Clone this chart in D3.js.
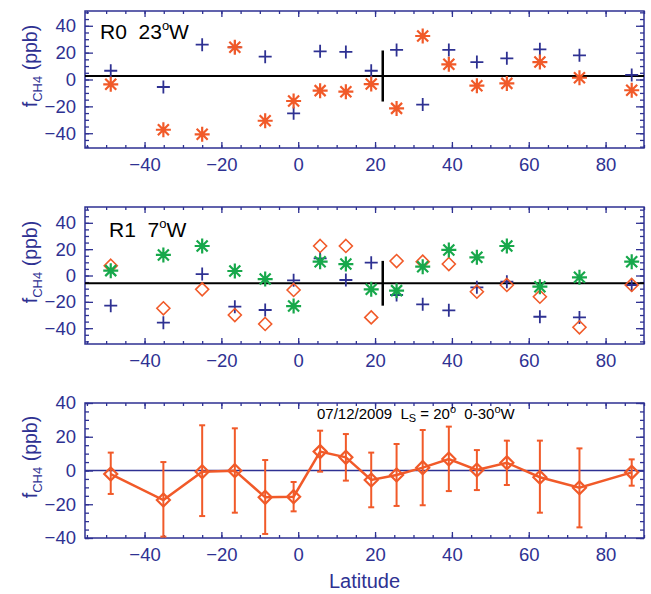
<!DOCTYPE html>
<html>
<head>
<meta charset="utf-8">
<script src="https://cdn.jsdelivr.net/npm/d3@7"></script>
<style>
  body { margin: 0; background: #fff; }
  svg text { font-family: "Liberation Sans", Arial, sans-serif; white-space: pre; }
</style>
</head>
<body>
<div id="chart"></div>
<script>
// latitude bins shared by every panel
const lat = [-48.8, -35.1, -25.0, -16.5, -8.6, -1.2, 5.7, 12.4, 19.0, 25.6, 32.4, 39.2, 46.5, 54.3, 62.9, 73.2, 86.8]

// R0 23W
const r0Plus = [6.5, -5.6, 25.9, 24, 17, -25.2, 21, 20.5, 6.5, 22, -18.7, 22, 13, 15.8, 22.5, 18, 3.4]
const r0Star = [-3.6, -37.4, -40.8, 24, -30.7, -16, -8.3, -9.1, -3.4, -21.5, 32.4, 11.3, -4.6, -2.9, 13, 1.3, -8]
const r0Mean = 2.6
const r0Bar = 19

// R1 7W
const r1Plus = [-22.9, -35.8, 1.1, -23.7, -26.2, -3.7, 13, -3.4, 9.7, -14.8, -21.9, -26.4, -9, -4.7, -31.3, -31.8, -7.2]
const r1Diamond = [7.4, -24.9, -10.5, -30, -36.8, -11, 22.4, 22.4, -31.8, 11, 10.5, 8.7, -12.3, -7.2, -16.1, -39.3, -7.2]
const r1Star = [3.7, 15.6, 22.4, 3.4, -2.7, -23.2, 10.5, 8.7, -10.5, -11.5, 6.7, 19.4, 13.8, 22.4, -8.5, -1.4, 10.5]
const r1Mean = -5.9
const r1Bar = 17

// combined 0-30W
const avg = [-2.1, -17.5, -0.7, -0.1, -15.9, -15.5, 11.2, 7.8, -5.6, -2.7, 1.7, 6.8, 0.3, 4.6, -4, -10.2, -1.1]
const avgHi = [10.6, 5, 26.8, 25, 6.2, -6.8, 23.6, 21.6, 10.6, 15.7, 24, 26, 12.1, 17.7, 17.7, 13.1, 6.6]
const avgLo = [-13.9, -39.2, -27, -25, -37.6, -24.2, -0.7, -6, -21.8, -21, -20.6, -12.2, -11.6, -8.6, -25, -33.7, -9]

const markLat = 22
const xTicks = [-40, -20, 0, 20, 40, 60, 80]
const yTicks = [-40, -20, 0, 20, 40]

const navy = '#2e3192'
const orange = '#f15a29'
const green = '#17a84b'

const width = 651, height = 594
const svg = d3.select('#chart').append('svg').attr('width', width).attr('height', height)

const x = d3.scaleLinear().domain([-55.5, 90]).range([85, 644])

const plusPath = 'M-6.5,0H6.5M0,-6.5V6.5'
const starPath = 'M-7.5,0H7.5M0,-7.5V7.5M-5.5,-5.5L5.5,5.5M-5.5,5.5L5.5,-5.5'
const diamondPath = 'M0,-6.5L6.5,0L0,6.5L-6.5,0Z'

function panel(top, bottom, yDomain, ylabelY) {
  const y = d3.scaleLinear().domain(yDomain).range([bottom, top])
  const g = svg.append('g')

  // ticks
  const minorX = d3.range(-55, 91, 5)
  const minorY = d3.range(Math.ceil(yDomain[0] / 5) * 5, yDomain[1] + 0.01, 5)
  g.append('g').attr('transform', `translate(0,${bottom})`).call(d3.axisBottom(x).tickValues(minorX).tickSize(-3).tickFormat(''))
  g.append('g').attr('transform', `translate(0,${bottom})`).call(d3.axisBottom(x).tickValues(xTicks).tickSize(-6).tickPadding(10).tickFormat(d3.format('d')))
  g.append('g').attr('transform', `translate(0,${top})`).call(d3.axisTop(x).tickValues(minorX).tickSize(-3).tickFormat(''))
  g.append('g').attr('transform', `translate(0,${top})`).call(d3.axisTop(x).tickValues(xTicks).tickSize(-6).tickFormat(''))
  g.append('g').attr('transform', `translate(${x.range()[0]},0)`).call(d3.axisLeft(y).tickValues(minorY).tickSize(-4).tickFormat(''))
  g.append('g').attr('transform', `translate(${x.range()[0]},0)`).call(d3.axisLeft(y).tickValues(yTicks).tickSize(-8).tickPadding(9).tickFormat(d3.format('d')))
  g.append('g').attr('transform', `translate(${x.range()[1]},0)`).call(d3.axisRight(y).tickValues(minorY).tickSize(-4).tickFormat(''))
  g.append('g').attr('transform', `translate(${x.range()[1]},0)`).call(d3.axisRight(y).tickValues(yTicks).tickSize(-8).tickFormat(''))

  g.selectAll('.domain').remove()
  g.selectAll('.tick line').attr('stroke', navy).attr('stroke-width', 1.3)
  g.selectAll('.tick text').attr('fill', navy).attr('font-size', 18.5).attr('font-family', '"Liberation Sans", Arial, sans-serif')

  g.append('rect')
    .attr('x', x.range()[0]).attr('y', top)
    .attr('width', x.range()[1] - x.range()[0]).attr('height', bottom - top)
    .attr('fill', 'none').attr('stroke', navy).attr('stroke-width', 1.5)

  // y label
  const yl = g.append('text')
    .attr('transform', `translate(37,${ylabelY}) rotate(-90)`)
    .attr('text-anchor', 'middle')
    .attr('fill', navy).attr('font-size', 19.5)
  yl.append('tspan').text('f')
  yl.append('tspan').attr('font-size', 13).attr('dy', 5).text('CH4')
  yl.append('tspan').attr('dy', -5).text(' (ppb)')

  const plot = svg.append('g')
  return { y, plot }
}

function markers(plot, y, values, path, color, width) {
  plot.selectAll(null)
    .data(values)
    .join('path')
    .attr('d', path)
    .attr('transform', (d, i) => `translate(${x(lat[i])},${y(d)})`)
    .attr('fill', 'none')
    .attr('stroke', color)
    .attr('stroke-width', width)
}

function meanLine(plot, y, mean, bar) {
  plot.append('line')
    .attr('x1', x.range()[0]).attr('x2', x.range()[1])
    .attr('y1', y(mean)).attr('y2', y(mean))
    .attr('stroke', '#000').attr('stroke-width', 2)
  plot.append('line')
    .attr('x1', x(markLat)).attr('x2', x(markLat))
    .attr('y1', y(mean + bar)).attr('y2', y(mean - bar))
    .attr('stroke', '#000').attr('stroke-width', 2.5)
}

function title(plot, px, py, before, after) {
  const t = plot.append('text').attr('x', px).attr('y', py).attr('font-size', 21).attr('fill', '#000')
  t.append('tspan').text(before)
  t.append('tspan').attr('font-size', 13).attr('dy', -9).text('o')
  t.append('tspan').attr('dy', 9).text(after)
}

// ---- panel R0
{
  const { y, plot } = panel(11, 148, [-51, 51], 66)
  meanLine(plot, y, r0Mean, r0Bar)
  markers(plot, y, r0Plus, plusPath, navy, 1.8)
  markers(plot, y, r0Star, starPath, orange, 2.2)
  title(plot, 100, 39, 'R0  23', 'W')
}

// ---- panel R1
{
  const { y, plot } = panel(207, 344, [-52, 52], 262)
  meanLine(plot, y, r1Mean, r1Bar)
  markers(plot, y, r1Plus, plusPath, navy, 1.8)
  markers(plot, y, r1Diamond, diamondPath, orange, 1.6)
  markers(plot, y, r1Star, starPath, green, 2.2)
  title(plot, 109, 237, 'R1  7', 'W')
}

// ---- combined panel
{
  const { y, plot } = panel(403, 538, [-40, 40], 457)
  plot.append('line')
    .attr('x1', x.range()[0]).attr('x2', x.range()[1])
    .attr('y1', y(0)).attr('y2', y(0))
    .attr('stroke', navy).attr('stroke-width', 1.3)

  const bars = plot.append('g').attr('stroke', orange).attr('stroke-width', 2)
  bars.selectAll('line.v').data(lat).join('line').attr('class', 'v')
    .attr('x1', d => x(d)).attr('x2', d => x(d))
    .attr('y1', (d, i) => y(avgHi[i])).attr('y2', (d, i) => y(avgLo[i]))
  bars.selectAll('line.hi').data(lat).join('line').attr('class', 'hi')
    .attr('x1', d => x(d) - 3).attr('x2', d => x(d) + 3)
    .attr('y1', (d, i) => y(avgHi[i])).attr('y2', (d, i) => y(avgHi[i]))
  bars.selectAll('line.lo').data(lat).join('line').attr('class', 'lo')
    .attr('x1', d => x(d) - 3).attr('x2', d => x(d) + 3)
    .attr('y1', (d, i) => y(avgLo[i])).attr('y2', (d, i) => y(avgLo[i]))

  plot.append('path')
    .datum(avg)
    .attr('d', d3.line().x((d, i) => x(lat[i])).y(d => y(d)))
    .attr('fill', 'none').attr('stroke', orange).attr('stroke-width', 2.5)

  markers(plot, y, avg, diamondPath, orange, 2.2)

  const t = plot.append('text').attr('x', 317).attr('y', 419).attr('font-size', 15).attr('fill', '#000')
  t.append('tspan').text('07/12/2009  L')
  t.append('tspan').attr('font-size', 11).attr('dy', 3).text('S')
  t.append('tspan').attr('dy', -3).text(' = 20')
  t.append('tspan').attr('font-size', 11).attr('dy', -6).text('o')
  t.append('tspan').attr('dy', 6).text('  0-30')
  t.append('tspan').attr('font-size', 11).attr('dy', -6).text('o')
  t.append('tspan').attr('dy', 6).text('W')

  svg.append('text')
    .attr('x', (x.range()[0] + x.range()[1]) / 2).attr('y', 588)
    .attr('text-anchor', 'middle')
    .attr('fill', navy).attr('font-size', 20)
    .text('Latitude')
}
</script>
</body>
</html>
